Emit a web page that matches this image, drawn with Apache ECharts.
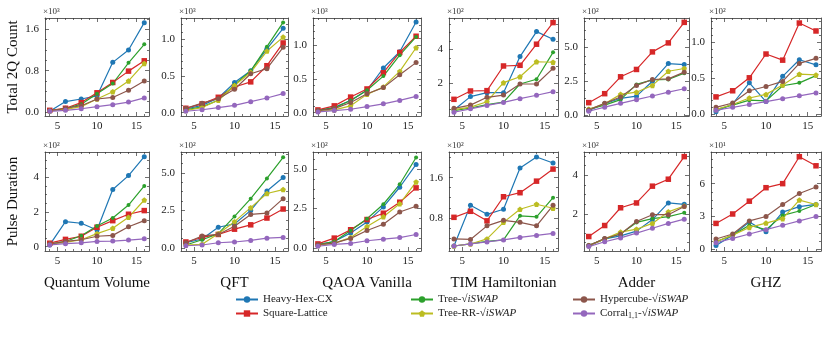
<!DOCTYPE html>
<html>
<head>
<meta charset="utf-8">
<script src="https://cdn.jsdelivr.net/npm/echarts@6/dist/echarts.min.js"></script>
<style>
  html, body { margin: 0; padding: 0; background: #fff; }
  #chart { width: 830px; height: 351px; }
</style>
</head>
<body>
<div id="chart"></div>
<script>
// number of qubits on the x axis
const qubits = [4, 6, 8, 10, 12, 14, 16];
const seriesNames = ['Heavy-Hex-CX', 'Square-Lattice', 'Tree-√iSWAP', 'Tree-RR-√iSWAP', 'Hypercube-√iSWAP', 'Corral-√iSWAP'];
const seriesColors = ['#1f77b4', '#d62728', '#2ca02c', '#bcbd22', '#8c564b', '#9467bd'];
const columnTitles = ['Quantum Volume', 'QFT', 'QAOA Vanilla', 'TIM Hamiltonian', 'Adder', 'GHZ'];
const rowTitles = ['Total 2Q Count', 'Pulse Duration'];

// each panel: one array per series, same order as seriesNames
const qvTotal = [
  [0.01, 0.2, 0.25, 0.31, 0.96, 1.2, 1.73],
  [0.03, 0.07, 0.18, 0.37, 0.57, 0.79, 0.99],
  [0.02, 0.06, 0.15, 0.35, 0.55, 0.95, 1.31],
  [0.02, 0.05, 0.1, 0.25, 0.39, 0.6, 0.94],
  [0.02, 0.07, 0.12, 0.25, 0.28, 0.42, 0.6],
  [0.01, 0.03, 0.06, 0.1, 0.14, 0.19, 0.27]
];
const qftTotal = [
  [0.05, 0.1, 0.2, 0.41, 0.57, 0.87, 1.15],
  [0.06, 0.12, 0.21, 0.35, 0.42, 0.64, 0.95],
  [0.04, 0.08, 0.17, 0.38, 0.57, 0.9, 1.23],
  [0.03, 0.07, 0.17, 0.37, 0.55, 0.84, 1.03],
  [0.06, 0.13, 0.19, 0.32, 0.53, 0.6, 0.89],
  [0.02, 0.04, 0.07, 0.1, 0.15, 0.2, 0.26]
];
const qaoaTotal = [
  [0.03, 0.08, 0.18, 0.33, 0.66, 0.9, 1.34],
  [0.04, 0.1, 0.23, 0.35, 0.59, 0.89, 1.13],
  [0.03, 0.07, 0.18, 0.33, 0.54, 0.85, 1.12],
  [0.02, 0.04, 0.1, 0.27, 0.38, 0.61, 0.96],
  [0.03, 0.06, 0.15, 0.28, 0.37, 0.56, 0.74],
  [0.01, 0.03, 0.05, 0.09, 0.13, 0.18, 0.24]
];
const timTotal = [
  [0.43, 1.22, 1.45, 1.45, 3.57, 5.04, 4.59],
  [1.06, 1.55, 1.57, 3.02, 3.06, 4.3, 5.57],
  [0.4, 0.55, 0.75, 0.9, 1.96, 2.24, 3.82],
  [0.45, 0.6, 0.92, 2.04, 2.39, 3.27, 3.24],
  [0.53, 0.72, 1.18, 1.31, 1.96, 1.96, 2.88],
  [0.3, 0.5, 0.7, 0.88, 1.1, 1.3, 1.51]
];
const adderTotal = [
  [0.35, 0.85, 1.25, 1.41, 2.5, 3.8, 3.73],
  [0.93, 1.59, 2.83, 3.37, 4.66, 5.32, 6.83],
  [0.45, 0.75, 1.15, 2.27, 2.6, 2.63, 3.1],
  [0.45, 0.85, 1.54, 1.7, 2.2, 3.24, 3.44],
  [0.4, 0.88, 1.35, 2.2, 2.63, 2.68, 3.17],
  [0.3, 0.6, 0.88, 1.15, 1.42, 1.7, 1.95]
];
const ghzTotal = [
  [0.04, 0.15, 0.44, 0.18, 0.53, 0.76, 0.69],
  [0.245, 0.33, 0.51, 0.84, 0.755, 1.27, 1.16],
  [0.07, 0.13, 0.2, 0.19, 0.4, 0.44, 0.54],
  [0.07, 0.14, 0.23, 0.28, 0.41, 0.56, 0.55],
  [0.1, 0.16, 0.33, 0.39, 0.46, 0.71, 0.78],
  [0.06, 0.1, 0.14, 0.18, 0.22, 0.26, 0.3]
];
const qvPulse = [
  [0.1, 1.44, 1.35, 0.96, 3.3, 4.1, 5.19],
  [0.2, 0.42, 0.6, 1.12, 1.5, 1.87, 2.08],
  [0.15, 0.3, 0.63, 1.19, 1.65, 2.4, 3.5],
  [0.15, 0.25, 0.4, 0.75, 1.06, 1.69, 2.69],
  [0.15, 0.3, 0.4, 0.6, 0.65, 1.15, 1.5],
  [0.1, 0.17, 0.22, 0.3, 0.32, 0.38, 0.45]
];
const qftPulse = [
  [0.35, 0.6, 1.38, 1.6, 2.5, 3.79, 4.69],
  [0.4, 0.7, 0.9, 1.25, 1.54, 1.99, 2.59],
  [0.2, 0.55, 0.95, 2.1, 3.28, 4.62, 6.03],
  [0.2, 0.25, 0.95, 1.75, 2.68, 3.62, 3.88],
  [0.35, 0.8, 0.9, 1.45, 2.23, 2.32, 3.28],
  [0.15, 0.2, 0.35, 0.4, 0.5, 0.65, 0.7]
];
const qaoaPulse = [
  [0.2, 0.4, 0.95, 1.65, 2.6, 3.85, 5.3],
  [0.25, 0.62, 1.15, 1.8, 2.2, 2.9, 3.81],
  [0.2, 0.4, 1.1, 1.85, 2.77, 4.04, 5.74],
  [0.15, 0.3, 0.65, 1.35, 1.98, 2.8, 4.19],
  [0.2, 0.3, 0.6, 1.1, 1.5, 2.28, 2.64],
  [0.1, 0.22, 0.28, 0.45, 0.55, 0.65, 0.85]
];
const timPulse = [
  [0.24, 1.05, 0.87, 0.97, 1.79, 2.01, 1.89],
  [0.81, 0.93, 0.74, 1.22, 1.3, 1.53, 1.77],
  [0.24, 0.28, 0.33, 0.36, 0.84, 0.82, 1.2],
  [0.24, 0.28, 0.38, 0.71, 0.97, 1.07, 0.99],
  [0.38, 0.37, 0.64, 0.75, 0.71, 0.64, 1.05],
  [0.24, 0.28, 0.32, 0.36, 0.41, 0.45, 0.49]
];
const adderPulse = [
  [0.35, 0.7, 0.85, 1.1, 1.7, 2.56, 2.49],
  [0.82, 1.39, 2.31, 2.56, 3.43, 3.79, 4.96],
  [0.35, 0.7, 0.95, 1.55, 1.75, 1.85, 2.05],
  [0.35, 0.7, 1.05, 1.2, 1.5, 2.1, 2.4],
  [0.35, 0.72, 0.95, 1.6, 1.95, 1.95, 2.38],
  [0.3, 0.55, 0.75, 1.0, 1.25, 1.5, 1.72]
];
const ghzPulse = [
  [0.35, 1.3, 2.5, 1.6, 3.4, 3.9, 4.1],
  [2.37, 3.23, 4.4, 5.63, 6.0, 8.46, 7.63],
  [0.7, 1.3, 2.2, 1.8, 3.1, 3.5, 4.1],
  [0.7, 1.3, 2.0, 2.4, 2.8, 4.5, 4.1],
  [0.95, 1.4, 2.6, 3.0, 4.1, 5.1, 5.7],
  [0.6, 1.0, 1.4, 1.8, 2.2, 2.6, 3.0]
];

// tick labels
const xTicks = [5, 10, 15];
const yTicks = [
  [0, 0.8, 1.6], [0, 0.5, 1.0], [0, 0.5, 1.0], [2, 4], [0, 2.5, 5], [0, 0.5, 1.0],
  [0, 2, 4], [0, 2.5, 5], [0, 2.5, 5], [0.8, 1.6], [2, 4], [0, 3, 6]
];
const multipliers = ['×10³', '×10³', '×10³', '×10²', '×10²', '×10²', '×10²', '×10²', '×10²', '×10²', '×10²', '×10¹'];

const panels = [qvTotal, qftTotal, qaoaTotal, timTotal, adderTotal, ghzTotal,
  qvPulse, qftPulse, qaoaPulse, timPulse, adderPulse, ghzPulse];

// layout / axis styling
const colLeft = [45, 181, 313, 449, 584, 711];
const colRight = [149, 288, 421, 558, 689, 821];
const rowTop = [18, 152];
const rowBottom = [116, 251];
const yRange = [
  [-0.08, 1.82], [-0.045, 1.29], [-0.05, 1.40], [0.08, 5.84], [-0.05, 7.15], [-0.02, 1.34],
  [-0.25, 5.46], [-0.2, 6.38], [-0.2, 6.09], [0.14, 2.11], [0.07, 5.2], [-0.15, 8.89]
];
const yMinorStep = [0.2, 0.1, 0.1, 0.5, 0.625, 0.1, 0.5, 0.625, 0.625, 0.2, 0.5, 0.75];
const yDecimals = [1, 1, 1, 0, 1, 1, 0, 1, 1, 1, 0, 0];
const xRange = [3.4, 16.6];

const SERIF = 'Liberation Serif';
const frameColor = '#333';
const pentagon = 'path://M0,-1L0.951,-0.309L0.588,0.809L-0.588,0.809L-0.951,-0.309Z';
const symbols = ['circle', 'rect', 'circle', pentagon, 'circle', 'circle'];
const symbolSizes = [5, 5.5, 4, 5.5, 5, 5];

function minorTicks (lo, hi, step, majors) {
  let out = []
  let start = Math.ceil(lo / step - 1e-9) * step
  for (let v = start; v <= hi + 1e-9; v += step) {
    let r = Math.round(v * 1000) / 1000
    if (!majors.some(m => Math.abs(m - r) < 1e-6)) out.push(r)
  }
  return out
}

function axisBase (gi, pos, lo, hi, ticks, major, labels, fmt) {
  return {
    type: 'value',
    gridIndex: gi,
    position: pos,
    min: lo,
    max: hi,
    axisLine: { show: major, onZero: false, lineStyle: { color: frameColor, width: 0.8 } },
    axisTick: { show: true, inside: true, length: major ? 4 : 2, customValues: ticks, lineStyle: { color: frameColor, width: 0.7 } },
    axisLabel: labels
      ? { show: true, customValues: ticks, formatter: fmt, color: '#222', fontFamily: SERIF, fontSize: 11, margin: pos === 'bottom' ? 5 : 6 }
      : { show: false },
    splitLine: { show: false },
    minorTick: { show: false }
  }
}

let grids = []
let xAxes = []
let yAxes = []
let series = []
let graphics = []

panels.forEach((panel, i) => {
  let row = Math.floor(i / 6)
  let col = i % 6
  let top = rowTop[row]
  let left = colLeft[col]
  grids.push({ left: left, top: top, width: colRight[col] - left, height: rowBottom[row] - top })

  let xMinor = minorTicks(xRange[0], xRange[1], 1, xTicks)
  let xFmt = v => String(v)
  xAxes.push(axisBase(i, 'bottom', xRange[0], xRange[1], xTicks, true, true, xFmt))
  xAxes.push(axisBase(i, 'bottom', xRange[0], xRange[1], xMinor, false, false))
  xAxes.push(axisBase(i, 'top', xRange[0], xRange[1], xTicks, true, false))
  xAxes.push(axisBase(i, 'top', xRange[0], xRange[1], xMinor, false, false))

  let [lo, hi] = yRange[i]
  let yMinor = minorTicks(lo, hi, yMinorStep[i], yTicks[i])
  let yFmt = v => Number(v).toFixed(yDecimals[i])
  yAxes.push(axisBase(i, 'left', lo, hi, yTicks[i], true, true, yFmt))
  yAxes.push(axisBase(i, 'left', lo, hi, yMinor, false, false))
  yAxes.push(axisBase(i, 'right', lo, hi, yTicks[i], true, false))
  yAxes.push(axisBase(i, 'right', lo, hi, yMinor, false, false))

  panel.forEach((vals, s) => {
    series.push({
      name: seriesNames[s],
      type: 'line',
      xAxisIndex: i * 4,
      yAxisIndex: i * 4,
      data: qubits.map((q, k) => [q, vals[k]]),
      symbol: symbols[s],
      symbolSize: symbolSizes[s],
      showAllSymbol: true,
      color: seriesColors[s],
      lineStyle: { width: 1.2 },
      itemStyle: { color: seriesColors[s] },
      emphasis: { disabled: true },
      animation: false
    })
  })

  // scale multiplier above each frame
  graphics.push({
    type: 'text', x: left - 2, y: top - 2,
    style: { text: multipliers[i], font: '9px "' + SERIF + '"', fill: '#333', textAlign: 'left', textVerticalAlign: 'bottom' }
  })
})

columnTitles.forEach((t, c) => {
  graphics.push({
    type: 'text', x: (colLeft[c] + colRight[c]) / 2, y: 283,
    style: { text: t, font: '15px "' + SERIF + '"', fill: '#111', textAlign: 'center', textVerticalAlign: 'middle' }
  })
})
rowTitles.forEach((t, r) => {
  graphics.push({
    type: 'text', x: 13, y: (rowTop[r] + rowBottom[r]) / 2, rotation: Math.PI / 2,
    style: { text: t, font: '15px "' + SERIF + '"', fill: '#111', textAlign: 'center', textVerticalAlign: 'middle' }
  })
})

function legendName (name) {
  if (name.indexOf('Corral') === 0) return 'Corral{sub|1,1}-√{it|iSWAP}'
  let k = name.indexOf('√iSWAP')
  if (k >= 0) return name.slice(0, k) + '√{it|iSWAP}'
  return name
}

function legendCol (names, left) {
  return {
    data: names,
    left: left,
    top: 289,
    orient: 'vertical',
    itemGap: 3,
    itemWidth: 22,
    itemHeight: 8,
    selectedMode: false,
    formatter: legendName,
    textStyle: {
      fontFamily: SERIF,
      fontSize: 11,
      color: '#222',
      rich: {
        it: { fontFamily: SERIF, fontSize: 11, fontStyle: 'italic', color: '#222' },
        sub: { fontFamily: SERIF, fontSize: 8, color: '#222', verticalAlign: 'bottom', padding: [5, 0, 0, 0] }
      }
    }
  }
}

let chart = echarts.init(document.getElementById('chart'), null, { renderer: 'canvas' })
chart.setOption({
  animation: false,
  backgroundColor: '#fff',
  grid: grids,
  xAxis: xAxes,
  yAxis: yAxes,
  series: series,
  legend: [
    legendCol([seriesNames[0], seriesNames[1]], 230),
    legendCol([seriesNames[2], seriesNames[3]], 405),
    legendCol([seriesNames[4], seriesNames[5]], 567)
  ],
  graphic: graphics
})
</script>
</body>
</html>
